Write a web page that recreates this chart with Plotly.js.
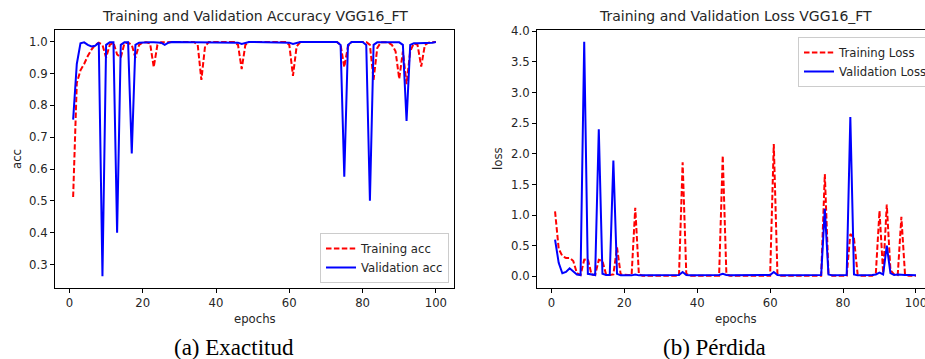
<!DOCTYPE html>
<html>
<head>
<meta charset="utf-8">
<script src="https://cdn.plot.ly/plotly-3.0.1.min.js"></script>
<style>
html, body { margin: 0; padding: 0; overflow: hidden; background: #fff; }
#chart { width: 940px; height: 359px; }
</style>
</head>
<body>
<div id="chart"></div>
<script>
var epochs = [1,2,3,4,5,6,7,8,9,10,11,12,13,14,15,16,17,18,19,20,21,22,23,24,25,26,27,28,29,30,31,32,33,34,35,36,37,38,39,40,41,42,43,44,45,46,47,48,49,50,51,52,53,54,55,56,57,58,59,60,61,62,63,64,65,66,67,68,69,70,71,72,73,74,75,76,77,78,79,80,81,82,83,84,85,86,87,88,89,90,91,92,93,94,95,96,97,98,99,100];

var trainAcc = [0.512,0.87,0.91,0.93,0.955,0.975,0.99,0.997,0.99,0.95,0.99,0.997,0.96,0.95,0.995,0.997,0.99,0.95,0.99,0.998,
0.998,0.995,0.92,0.99,0.998,0.999,0.999,0.999,0.999,0.999,0.999,0.999,0.999,0.999,0.99,0.88,0.985,0.999,0.999,0.999,
0.999,0.999,0.999,0.999,0.999,0.99,0.914,0.99,0.999,0.999,0.999,0.999,0.999,0.999,0.999,0.999,0.999,0.999,0.999,0.99,
0.893,0.985,0.999,0.999,0.999,0.999,0.999,0.999,0.999,0.999,0.999,0.999,0.999,0.99,0.92,0.985,0.999,0.999,0.999,0.999,
0.999,0.99,0.88,0.98,0.998,0.998,0.998,0.99,0.97,0.883,0.97,0.867,0.97,0.995,0.99,0.922,0.99,0.997,0.998,0.999];

var valAcc = [0.755,0.93,0.995,0.998,0.99,0.985,0.987,0.997,0.263,0.99,0.998,0.998,0.40,0.99,0.998,0.998,0.649,0.99,0.997,0.998,
0.998,0.998,0.998,0.998,0.997,0.99,0.997,0.999,0.999,0.999,0.999,0.999,0.999,0.999,0.999,0.999,0.999,0.999,0.999,0.999,
0.999,0.999,0.999,0.999,0.999,0.997,0.993,0.997,0.999,0.999,0.999,0.999,0.999,0.999,0.999,0.999,0.999,0.999,0.999,0.997,
0.993,0.997,0.999,0.999,0.999,0.999,0.999,0.999,0.999,0.999,0.999,0.999,0.999,0.99,0.576,0.99,0.999,0.999,0.999,0.999,
0.99,0.50,0.99,0.998,0.998,0.998,0.998,0.998,0.998,0.998,0.99,0.751,0.99,0.995,0.995,0.995,0.997,0.997,0.997,0.999];

var trainLoss = [1.06,0.45,0.33,0.30,0.30,0.25,0.05,0.02,0.27,0.28,0.03,0.02,0.27,0.25,0.03,0.02,0.03,0.47,0.03,0.02,
0.02,0.02,1.12,0.03,0.01,0.01,0.01,0.01,0.01,0.01,0.01,0.01,0.01,0.01,0.01,1.86,0.04,0.01,0.01,0.01,
0.01,0.01,0.01,0.01,0.01,0.01,1.97,0.03,0.01,0.01,0.01,0.01,0.01,0.01,0.01,0.01,0.01,0.01,0.01,0.01,
2.16,0.04,0.01,0.01,0.01,0.01,0.01,0.01,0.01,0.01,0.01,0.01,0.01,0.01,1.67,0.05,0.01,0.01,0.01,0.01,
0.01,0.69,0.62,0.03,0.01,0.01,0.01,0.01,0.05,1.07,0.05,1.17,0.10,0.03,0.02,0.97,0.03,0.01,0.01,0.01];

var valLoss = [0.60,0.22,0.05,0.07,0.13,0.08,0.03,0.02,3.83,0.04,0.03,0.02,2.40,0.04,0.02,0.02,1.89,0.04,0.015,0.015,
0.015,0.015,0.03,0.015,0.015,0.015,0.015,0.015,0.015,0.015,0.015,0.015,0.015,0.015,0.02,0.07,0.02,0.015,0.015,0.015,
0.015,0.015,0.015,0.015,0.015,0.02,0.04,0.02,0.015,0.015,0.015,0.015,0.015,0.015,0.015,0.015,0.015,0.015,0.015,0.02,
0.07,0.02,0.015,0.015,0.015,0.015,0.015,0.015,0.015,0.015,0.015,0.015,0.015,0.02,1.10,0.03,0.015,0.015,0.015,0.015,
0.02,2.60,0.03,0.015,0.015,0.015,0.015,0.02,0.03,0.06,0.03,0.50,0.05,0.02,0.03,0.02,0.02,0.02,0.015,0.015];

var xTicks = [0,20,40,60,80,100];
var accTicks = [0.3,0.4,0.5,0.6,0.7,0.8,0.9,1.0];
var lossTicks = [0,0.5,1,1.5,2,2.5,3,3.5,4];

var W = 940, H = 359;
function px(x){ return x / W; }
function py(y){ return (H - y) / H; }

var font = "DejaVu Sans, sans-serif";
var txt = "#262626";
var fs = 11.7;
var red = "#ff0000", blue = "#0000ff";
var dash = "5.5px,2.4px";

var traces = [
  {x: epochs, y: trainAcc, type: "scatter", mode: "lines", name: "Training acc",
   line: {color: red, width: 2, dash: dash}, xaxis: "x", yaxis: "y", legend: "legend"},
  {x: epochs, y: valAcc, type: "scatter", mode: "lines", name: "Validation acc",
   line: {color: blue, width: 2}, xaxis: "x", yaxis: "y", legend: "legend"},
  {x: epochs, y: trainLoss, type: "scatter", mode: "lines", name: "Training Loss",
   line: {color: red, width: 2, dash: dash}, xaxis: "x2", yaxis: "y2", legend: "legend2"},
  {x: epochs, y: valLoss, type: "scatter", mode: "lines", name: "Validation Loss",
   line: {color: blue, width: 2}, xaxis: "x2", yaxis: "y2", legend: "legend2"}
];

var axisCommon = {
  showgrid: false, zeroline: false, showline: true, mirror: true,
  linecolor: "#000", linewidth: 1, ticks: "outside", ticklen: 4, tickwidth: 1,
  tickcolor: "#000", tickfont: {family: font, size: fs, color: txt},
  fixedrange: true
};

function ax(extra){ return Object.assign({}, axisCommon, extra); }

var yBottom = py(288), yTop = py(30);

function note(text, x, y, size, fam, angle, color){
  return {text: text, xref: "paper", yref: "paper", x: px(x), y: py(y),
    xanchor: "center", yanchor: "middle", showarrow: false, textangle: angle || 0,
    font: {family: fam || font, size: size, color: color || txt}};
}

var layout = {
  width: W, height: H,
  margin: {l: 0, r: 0, t: 0, b: 0, pad: 0},
  paper_bgcolor: "#fff", plot_bgcolor: "#fff",
  showlegend: true,
  font: {family: font, size: fs, color: txt},
  xaxis: ax({domain: [px(55), px(454)], range: [-3.95, 104.95], tickvals: xTicks, anchor: "y"}),
  yaxis: ax({domain: [yBottom, yTop], range: [0.2262, 1.0368], tickvals: accTicks, tickformat: ".1f", anchor: "x"}),
  xaxis2: ax({domain: [px(537), px(934)], range: [-3.95, 104.95], tickvals: xTicks, anchor: "y2"}),
  yaxis2: ax({domain: [yBottom, yTop], range: [-0.1915, 4.0215], tickvals: lossTicks, tickformat: ".1f", anchor: "x2"}),
  legend: {x: px(449), y: py(283), xanchor: "right", yanchor: "bottom",
    bgcolor: "rgba(255,255,255,0.8)", bordercolor: "#cccccc", borderwidth: 1,
    font: {family: font, size: fs, color: txt}, itemwidth: 30, tracegroupgap: 0},
  legend2: {x: px(798), y: py(37), xanchor: "left", yanchor: "top",
    bgcolor: "rgba(255,255,255,0.8)", bordercolor: "#cccccc", borderwidth: 1,
    font: {family: font, size: fs, color: txt}, itemwidth: 30, tracegroupgap: 0},
  annotations: [
    note("Training and Validation Accuracy VGG16_FT", 254.5, 16, 14),
    note("Training and Validation Loss VGG16_FT", 735.5, 16, 14),
    note("epochs", 254.5, 319, fs),
    note("epochs", 735.5, 319, fs),
    note("acc", 17, 159, fs, font, -90),
    note("loss", 498, 159, fs, font, -90),
    note("(a) Exactitud", 234, 347, 23, "Liberation Serif, serif", 0, "#000"),
    note("(b) Pérdida", 714, 347, 23, "Liberation Serif, serif", 0, "#000")
  ]
};

Plotly.newPlot("chart", traces, layout, {displayModeBar: false, staticPlot: true});
</script>
</body>
</html>
